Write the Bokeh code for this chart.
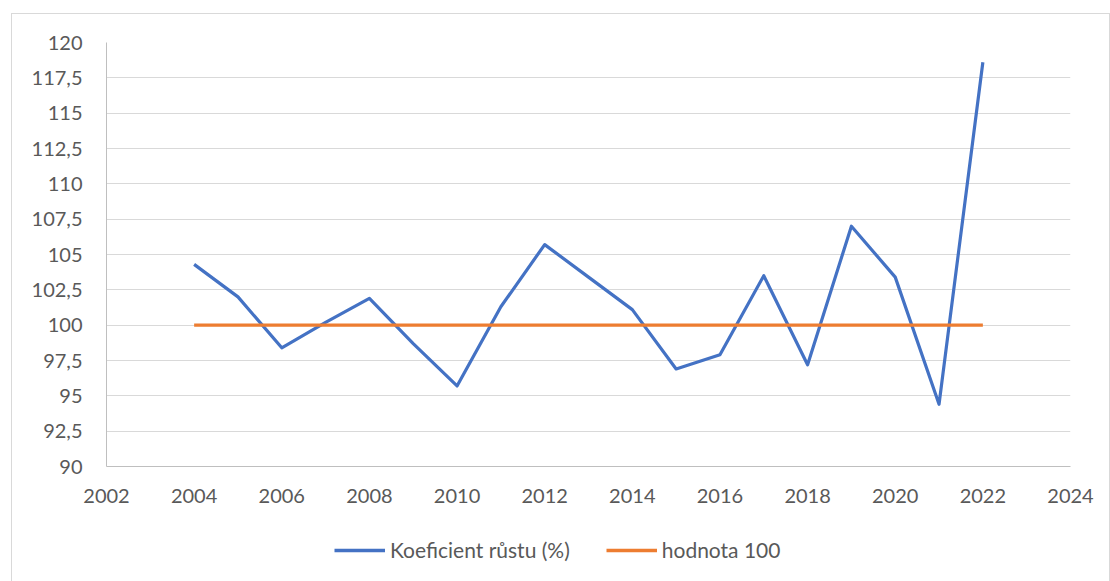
from bokeh.plotting import figure
from bokeh.models import Range1d, FixedTicker, Legend, LegendItem
from bokeh.layouts import column
from bokeh.embed import file_html
from bokeh.resources import INLINE

years = [2004, 2005, 2006, 2007, 2008, 2009, 2010, 2011, 2012, 2013,
         2014, 2015, 2016, 2017, 2018, 2019, 2020, 2021, 2022]
koeficient = [104.3, 102.0, 98.4, 100.2, 101.9, 98.7, 95.7, 101.3, 105.7, 103.4,
              101.1, 96.9, 97.9, 103.5, 97.2, 107.0, 103.4, 94.4, 118.6]
hodnota = [100] * len(years)
series_names = ["Koeficient růstu (%)", "hodnota 100"]

y_ticks = [90, 92.5, 95, 97.5, 100, 102.5, 105, 107.5, 110, 112.5, 115, 117.5, 120]
y_tick_labels = ["90", "92,5", "95", "97,5", "100", "102,5", "105", "107,5",
                 "110", "112,5", "115", "117,5", "120"]
x_ticks = [2002, 2004, 2006, 2008, 2010, 2012, 2014, 2016, 2018, 2020, 2022, 2024]

FONT = "Lato"
TXT = "#595959"
BLUE = "#4472c4"
ORANGE = "#ed7d31"

p = figure(width=1097, height=507, output_backend="svg", toolbar_location=None,
           x_range=Range1d(2002, 2024), y_range=Range1d(90, 120),
           min_border_left=94, min_border_right=39, min_border_top=28, min_border_bottom=55)
p.outline_line_color = None
p.background_fill_color = "white"
p.border_fill_color = "white"

p.xgrid.grid_line_color = None
p.ygrid.grid_line_color = "#d9d9d9"
p.ygrid.grid_line_width = 1

p.yaxis.ticker = FixedTicker(ticks=y_ticks)
p.yaxis.major_label_overrides = {t: l for t, l in zip(y_ticks, y_tick_labels)}
p.xaxis.ticker = FixedTicker(ticks=x_ticks)

for ax in (p.xaxis, p.yaxis):
    ax.major_tick_line_color = None
    ax.minor_tick_line_color = None
    ax.axis_line_color = "#bfbfbf"
    ax.axis_line_width = 1
    ax.major_label_text_font = FONT
    ax.major_label_text_font_size = "20px"
    ax.major_label_text_color = TXT
p.yaxis.major_label_standoff = 18
p.xaxis.major_label_standoff = 16

p.line(years, koeficient, line_color=BLUE, line_width=3.2, line_join="round")
p.line(years, hodnota, line_color=ORANGE, line_width=3.2)

# legend strip below the chart (proxy lines lie outside its visible range)
lf = figure(width=1097, height=60, output_backend="svg", toolbar_location=None,
            x_range=Range1d(0, 1), y_range=Range1d(0, 1),
            min_border_left=0, min_border_right=0, min_border_top=0, min_border_bottom=0)
lf.axis.visible = False
lf.grid.visible = False
lf.outline_line_color = None
lf.border_fill_color = "white"
l1 = lf.line(years[:2], koeficient[:2], line_color=BLUE, line_width=3.5)
l2 = lf.line(years[:2], hodnota[:2], line_color=ORANGE, line_width=3.5)

legend = Legend(items=[LegendItem(label=series_names[0], renderers=[l1]),
                       LegendItem(label=series_names[1], renderers=[l2])],
                orientation="horizontal", location=(228, 19))
legend.label_text_font = FONT
legend.label_text_font_size = "21px"
legend.label_text_color = TXT
legend.glyph_width = 51
legend.label_standoff = 5
legend.spacing = 36
legend.border_line_color = None
legend.background_fill_alpha = 0
lf.add_layout(legend, "center")

layout = column(p, lf, spacing=0, margin=(13, 0, 0, 11),
                styles={"border": "1px solid #d9d9d9"})

open("out.html", "w").write(file_html(layout, INLINE))
